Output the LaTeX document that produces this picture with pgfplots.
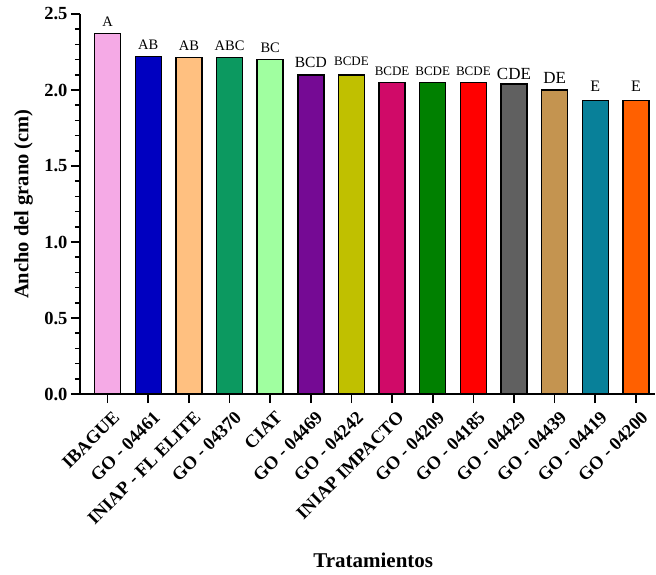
\documentclass[border=0pt]{standalone}
\usepackage{fontspec}
\setmainfont{Liberation Serif}
\usepackage{pgfplots}
\pgfplotsset{compat=1.18}
\definecolor{c1}{RGB}{245,170,230}
\definecolor{c2}{RGB}{0,0,192}
\definecolor{c3}{RGB}{255,192,128}
\definecolor{c4}{RGB}{12,153,96}
\definecolor{c5}{RGB}{160,255,160}
\definecolor{c6}{RGB}{117,10,148}
\definecolor{c7}{RGB}{192,192,0}
\definecolor{c8}{RGB}{208,10,104}
\definecolor{c9}{RGB}{0,128,0}
\definecolor{c10}{RGB}{255,0,0}
\definecolor{c11}{RGB}{96,96,96}
\definecolor{c12}{RGB}{196,148,80}
\definecolor{c13}{RGB}{8,128,153}
\definecolor{c14}{RGB}{255,96,0}
\begin{document}
\begin{tikzpicture}
\begin{axis}[
  name=ax,
  scale only axis,
  width=575bp, height=380bp,
  xmin=-0.68, xmax=13.47,
  ymin=0, ymax=2.5,
  axis x line=bottom, axis y line=left,
  axis line style={-, line width=1.6bp},
  tick style={line width=1.6bp, black},
  tick align=outside,
  major tick length=9bp, minor tick length=5bp,
  ytick={0,0.5,1,1.5,2,2.5},
  minor y tick num=4,
  xtick={0,1,2,3,4,5,6,7,8,9,10,11,12,13},
  xticklabels={IBAGUE, GO - 04461, INIAP - FL ELITE, GO - 04370, CIAT, GO - 04469, GO - 04242, INIAP IMPACTO, GO - 04209, GO - 04185, GO - 04429, GO - 04439, GO - 04419, GO - 04200},
  xticklabel style={rotate=45, anchor=north east, font=\fontsize{18.3bp}{20bp}\selectfont\bfseries, inner sep=1bp, yshift=-7bp, xshift=-1bp},
  yticklabel style={font=\fontsize{18.5bp}{20bp}\selectfont\bfseries, /pgf/number format/.cd, fixed, fixed zerofill, precision=1, assume math mode=true},
  ylabel={Ancho del grano (cm)},
  xlabel={Tratamientos},
  ylabel style={at={(axis description cs:-0.098,0.5)}, anchor=center, font=\fontsize{20.5bp}{22bp}\selectfont\bfseries},
  xlabel style={at={(axis description cs:0.51,-0.437)}, anchor=center, font=\fontsize{21bp}{23bp}\selectfont\bfseries},
  ybar, bar width=26bp, bar shift=0pt,
  every axis plot/.append style={draw=black, line width=1.5bp},
  nodes near coords style={font=\fontsize{14.5bp}{16bp}\selectfont, anchor=south, inner sep=0pt, yshift=6bp, text=black},
  clip=false,
]
\addplot[fill=c1, nodes near coords={A}] coordinates {(0,2.373)};
\addplot[fill=c2, nodes near coords={AB}] coordinates {(1,2.219)};
\addplot[fill=c3, nodes near coords={AB}] coordinates {(2,2.215)};
\addplot[fill=c4, nodes near coords={ABC}] coordinates {(3,2.213)};
\addplot[fill=c5, nodes near coords={BC}] coordinates {(4,2.200)};
\addplot[fill=c6, nodes near coords={BCD}, nodes near coords style={font=\fontsize{15.5bp}{17bp}\selectfont}] coordinates {(5,2.100)};
\addplot[fill=c7, nodes near coords={BCDE}, nodes near coords style={font=\fontsize{13bp}{14bp}\selectfont, yshift=3bp}] coordinates {(6,2.099)};
\addplot[fill=c8, nodes near coords={BCDE}, nodes near coords style={font=\fontsize{13bp}{14bp}\selectfont}] coordinates {(7,2.050)};
\addplot[fill=c9, nodes near coords={BCDE}, nodes near coords style={font=\fontsize{13bp}{14bp}\selectfont}] coordinates {(8,2.048)};
\addplot[fill=c10, nodes near coords={BCDE}, nodes near coords style={font=\fontsize{13bp}{14bp}\selectfont}] coordinates {(9,2.048)};
\addplot[fill=c11, nodes near coords={CDE}, nodes near coords style={font=\fontsize{17bp}{19bp}\selectfont, yshift=-2bp}] coordinates {(10,2.040)};
\addplot[fill=c12, nodes near coords={DE}, nodes near coords style={font=\fontsize{17bp}{19bp}\selectfont}] coordinates {(11,2.000)};
\addplot[fill=c13, nodes near coords={E}, nodes near coords style={font=\fontsize{16bp}{18bp}\selectfont, yshift=2bp}] coordinates {(12,1.932)};
\addplot[fill=c14, nodes near coords={E}, nodes near coords style={font=\fontsize{16bp}{18bp}\selectfont, yshift=2bp}] coordinates {(13,1.930)};
\end{axis}
\pgfresetboundingbox
\path[use as bounding box] ([xshift=-80bp,yshift=-181bp]ax.south west) rectangle ([xshift=1bp,yshift=14bp]ax.north east);
\end{tikzpicture}
\end{document}
